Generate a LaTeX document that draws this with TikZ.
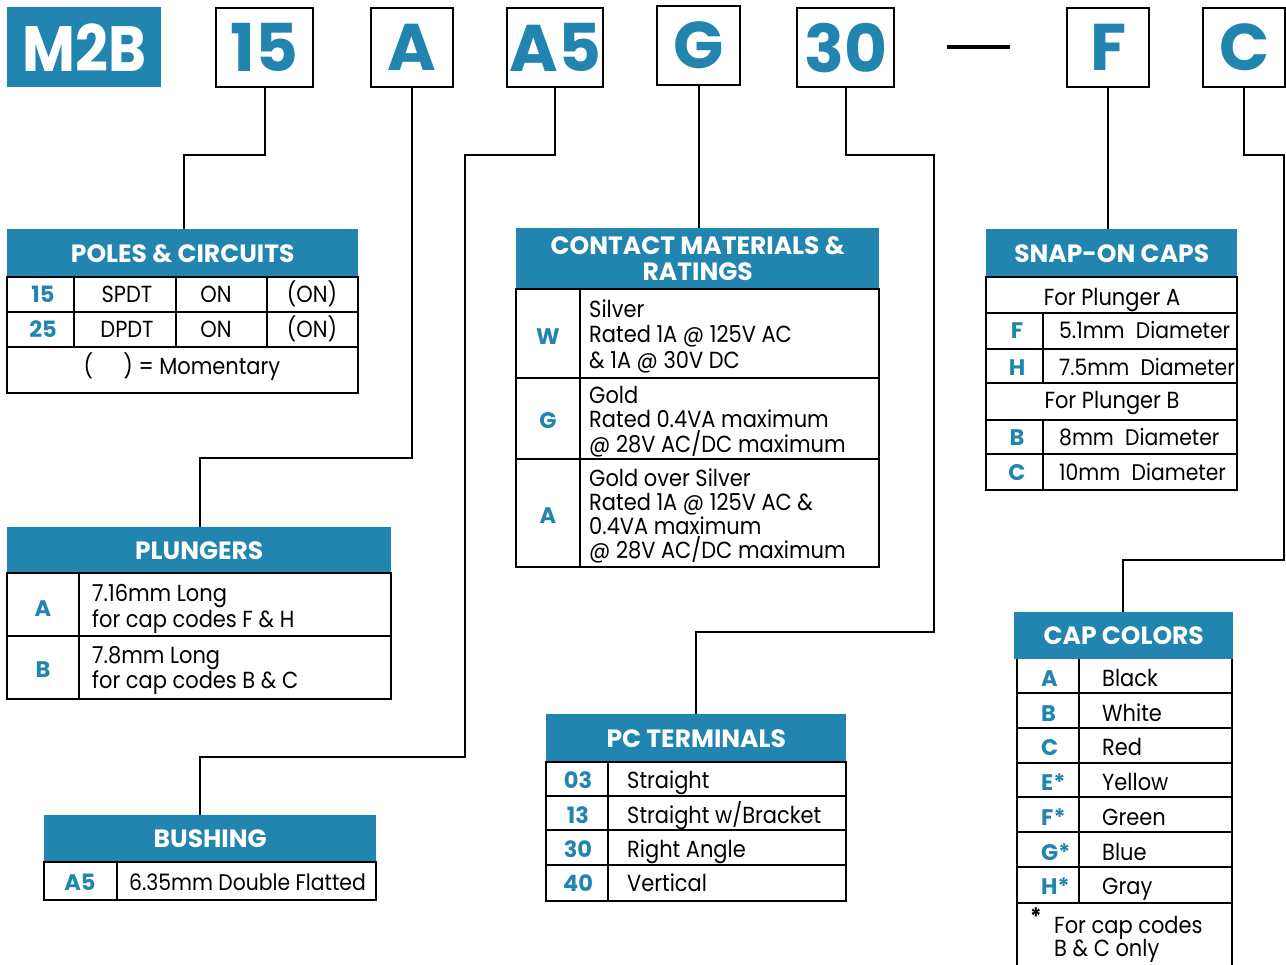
\documentclass[tikz,border=0pt]{standalone}
\usepackage{fontspec}
\setmainfont{Poppins}[FakeStretch=0.9]
\newfontfamily\widefont{Poppins}
\usepackage{xcolor}
\definecolor{codeblue}{RGB}{33,133,175}
\tikzset{
  hdr/.style={fill=codeblue, text=white, anchor=north west, inner sep=0pt, align=center,
    font=\widefont\bfseries\fontsize{25}{26}\selectfont},
  codebox/.style={draw, line width=2.4pt, text=codeblue, anchor=north west, inner sep=0pt,
    minimum height=79, font=\widefont\bfseries\fontsize{66}{66}\selectfont},
  key/.style={text=codeblue, inner sep=0pt, text height=17pt, text depth=0pt,
    font=\widefont\bfseries\fontsize{22.5}{24}\selectfont},
  txt/.style={inner sep=0pt, text height=17pt, text depth=0pt, font=\fontsize{23.3}{25}\selectfont},
  tight/.style={txt, font=\fontsize{22.6}{25}\selectfont},
  wire/.style={line width=2pt},
  frame/.style={line width=2.2pt},
  rule/.style={line width=1.1pt}
}
\begin{document}
\begin{tikzpicture}[x=1pt,y=-1pt]
  \useasboundingbox (0,0) rectangle (1286,965);
  % part number boxes
  \node[hdr, minimum width=154, minimum height=80, font=\bfseries\fontsize{64}{64}\selectfont] (m2b) at (7,7) {M2B};
  \node[codebox, minimum width=97] (c15) at (215,7) {15};
  \node[codebox, minimum width=82] (cA) at (370,7) {A};
  \node[codebox, minimum width=96] (cA5) at (506,7) {A5};
  \node[codebox, minimum width=83] (cG) at (656,5) {G};
  \node[codebox, minimum width=97] (c30) at (796,7) {30};
  \draw[line width=4.5pt] (947,47) -- (1010,47);
  \node[codebox, minimum width=82] (cF) at (1066,7) {F};
  \node[codebox, minimum width=82] (cC) at (1202,7) {C};

  % headers
  \node[hdr, minimum width=351, minimum height=48] (poles) at (7,229) {POLES \& CIRCUITS};
  \node[hdr, minimum width=363, minimum height=61] (contact) at (516,228) {CONTACT MATERIALS \&\\RATINGS};
  \node[hdr, minimum width=251, minimum height=48] (snap) at (986,229) {SNAP-ON CAPS};
  \node[hdr, minimum width=384, minimum height=46] (plung) at (7,527) {PLUNGERS};
  \node[hdr, minimum width=332, minimum height=47] (bush) at (44,815) {BUSHING};
  \node[hdr, minimum width=300, minimum height=48] (term) at (546,714) {PC TERMINALS};
  \node[hdr, minimum width=219, minimum height=47] (color) at (1014,612) {CAP COLORS};

  % leaders
  \coordinate (k15) at (184,155);
  \draw[wire] (c15.south) |- (k15) -- (k15 |- poles.north);
  \coordinate (kA) at (200,458);
  \draw[wire] (cA.south) |- (kA) -- (kA |- plung.north);
  \coordinate (kA5a) at (465,155);
  \coordinate (kA5b) at (200,757);
  \draw[wire] (cA5.south) |- (kA5a) |- (kA5b) -- (kA5b |- bush.north);
  \draw[wire] (cG.south) -- (cG.south |- contact.north);
  \coordinate (k30a) at (934,155);
  \coordinate (k30b) at (696,632);
  \draw[wire] (c30.south) |- (k30a) |- (k30b) -- (k30b |- term.north);
  \draw[wire] (cF.south) -- (cF.south |- snap.north);
  \coordinate (kCa) at (1284,155);
  \coordinate (kCb) at (1123,560);
  \draw[wire] (cC.south) |- (kCa) |- (kCb) -- (kCb |- color.north);

  % poles & circuits
  \draw[frame] (7,277) rectangle (358,393);
  \draw[rule] (7,312) -- (358,312) (7,347) -- (358,347);
  \draw[rule] \foreach \x in {74,176,267} {(\x,277) -- (\x,347)};
  \foreach \k/\p [count=\i] in {15/SPDT, 25/DPDT} {
    \node[key] (pk\i) at (43,{294.5+34.5*(\i-1)}) {\k};
    \node[txt] (pp\i) at (127,{294.5+34.5*(\i-1)}) {\p};
    \node[txt] (po\i) at (216,{294.5+34.5*(\i-1)}) {ON};
    \node[txt] (pm\i) at (312,{294.5+34.5*(\i-1)}) {(ON)};
  }
  \node[txt] (pfoot) at (182,366) {(\hspace{1.3em})\ = Momentary};

  % contact materials
  \draw[frame] (516,289) rectangle (879,567);
  \draw[rule] (516,378) -- (879,378) (516,459) -- (879,459) (580,289) -- (580,567);
  \node[key] (kW) at (548,336) {W};
  \node[key] (kG) at (548,420) {G};
  \node[key] (kAg) at (548,515) {A};
  \foreach \t [count=\j] in {Silver, Rated 1A @ 125V AC, \& 1A @ 30V DC}
    \node[txt, anchor=west] (w\j) at (589,{309+25.5*(\j-1)}) {\t};
  \foreach \t [count=\j] in {Gold, Rated 0.4VA maximum, {@ 28V AC/DC maximum}}
    \node[txt, anchor=west] (g\j) at (589,{395+24.5*(\j-1)}) {\t};
  \foreach \t [count=\j] in {Gold over Silver, Rated 1A @ 125V AC \&, 0.4VA maximum, {@ 28V AC/DC maximum}}
    \node[txt, anchor=west] (a\j) at (589,{478+24*(\j-1)}) {\t};

  % snap-on caps
  \draw[frame] (986,277) rectangle (1237,490);
  \draw[rule] \foreach \y in {313,349,383,420,454} {(986,\y) -- (1237,\y)};
  \draw[rule] (1043,313) -- (1043,383) (1043,420) -- (1043,490);
  \node[txt] (sA) at (1112,297) {For Plunger A};
  \node[txt] (sB) at (1112,400.5) {For Plunger B};
  \foreach \k/\d/\y in {F/5.1mm/330.5, H/7.5mm/367, B/8mm/437, C/10mm/472} {
    \node[key] (sk\k) at (1017,\y) {\k};
    \node[tight, anchor=west] (sd\k) at (1059,\y) {\d\hspace{0.5em}Diameter};
  }

  % plungers
  \draw[frame] (7,573) rectangle (391,699);
  \draw[rule] (7,636) -- (391,636) (79,573) -- (79,699);
  \node[key] (lA) at (43,608) {A};
  \node[key] (lB) at (43,669) {B};
  \node[txt, anchor=west] (lA1) at (92,593) {7.16mm Long};
  \node[txt, anchor=west] (lA2) at (92,619) {for cap codes F \& H};
  \node[txt, anchor=west] (lB1) at (92,655) {7.8mm Long};
  \node[txt, anchor=west] (lB2) at (92,680) {for cap codes B \& C};

  % bushing
  \draw[frame] (44,862) rectangle (376,900);
  \draw[rule] (117,862) -- (117,900);
  \node[key] (bA5) at (80,882) {A5};
  \node[tight, anchor=west] (bd) at (129,882) {6.35mm Double Flatted};

  % pc terminals
  \draw[frame] (546,762) rectangle (846,901);
  \draw[rule] \foreach \y in {796,830,865} {(546,\y) -- (846,\y)};
  \draw[rule] (608,762) -- (608,901);
  \foreach \k/\d/\y in {03/Straight/780, 13/{Straight w/Bracket}/815, 30/Right Angle/849, 40/Vertical/883} {
    \node[key] (t\k) at (578,\y) {\k};
    \node[txt, anchor=west] (td\k) at (627,\y) {\d};
  }

  % cap colors
  \draw[frame] (1017,659) -- (1017,965) (1232,659) -- (1232,965);
  \draw[rule] \foreach \y in {693,728,763,797,832,867,903} {(1017,\y) -- (1232,\y)};
  \draw[rule] (1079,659) -- (1079,903);
  \foreach \k/\d [count=\i] in {A/Black, B/White, C/Red, E*/Yellow, F*/Green, G*/Blue, H*/Gray} {
    \node[key, anchor=west] (ck\i) at (1041,{678+34.7*(\i-1)}) {\k};
    \node[txt, anchor=west] (cd\i) at (1102,{678+34.7*(\i-1)}) {\d};
  }
  \node[txt, font=\bfseries\fontsize{24}{24}\selectfont] (cstar) at (1036,917) {*};
  \node[txt, anchor=west] (cn1) at (1054,925) {For cap codes};
  \node[txt, anchor=west] (cn2) at (1054,948) {B \& C only};
\end{tikzpicture}
\end{document}
